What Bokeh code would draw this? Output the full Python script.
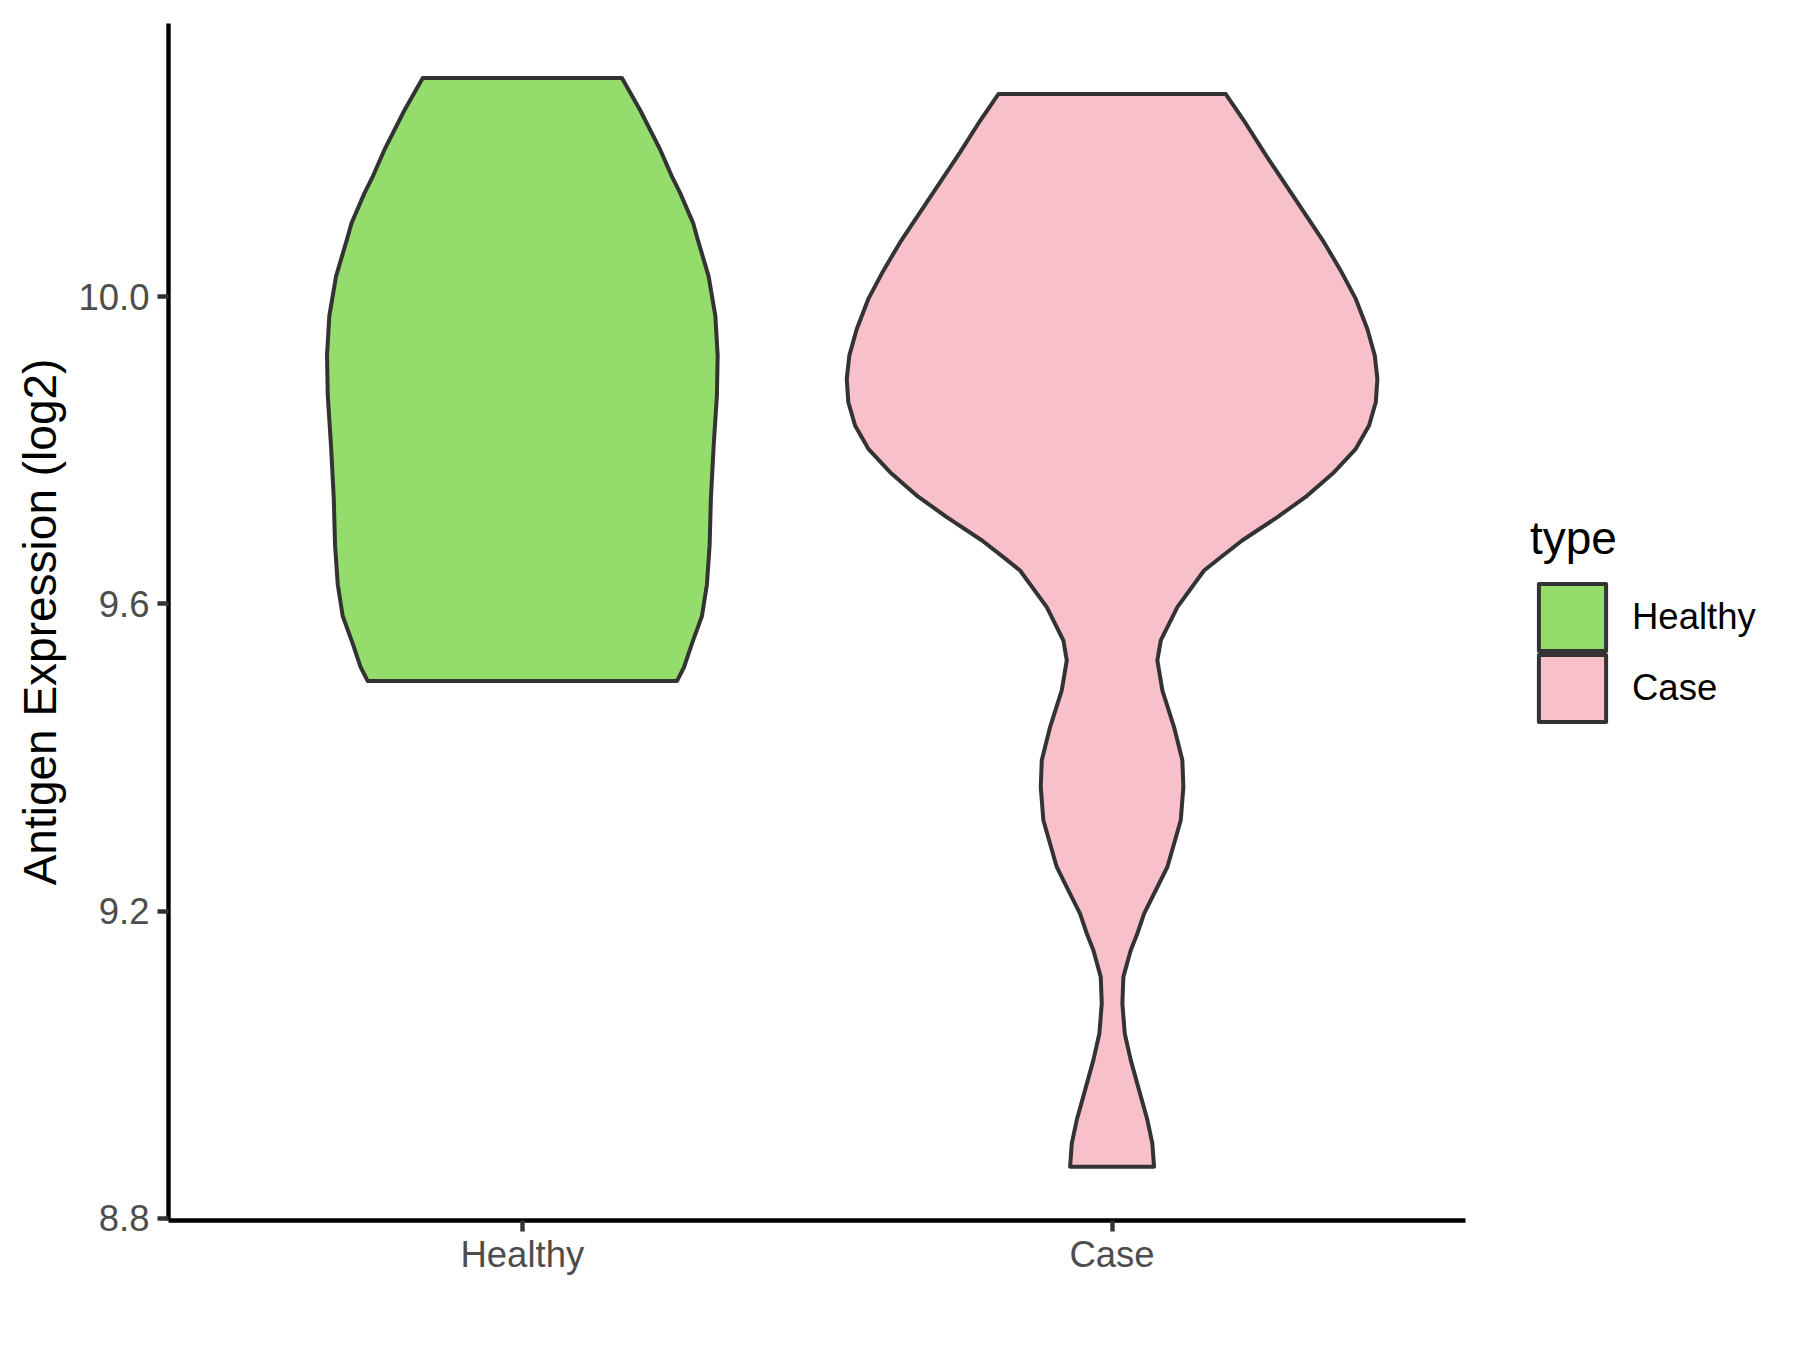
from bokeh.plotting import figure
from bokeh.models import Range1d, FixedTicker, Legend, LegendItem
from bokeh.embed import file_html
from bokeh.resources import INLINE

# ---- data ----
categories = ["Healthy", "Case"]
fill_colors = ["#94DC6B", "#F7C0CB"]
y_ticks = [8.8, 9.2, 9.6, 10.0]
y_tick_labels = ["8.8", "9.2", "9.6", "10.0"]

# violin outlines: expression value (top -> bottom) and half width (x units)
healthy_y = [10.2849, 10.2427, 10.1913, 10.1555, 10.1347, 10.0953, 10.0781,
             10.0267, 9.9753, 9.9239, 9.8724, 9.8055, 9.7386, 9.6769,
             9.6254, 9.5843, 9.5484, 9.5178, 9.4995]
healthy_hw = [0.1689, 0.2001, 0.2340, 0.2544, 0.2679, 0.2900, 0.2961,
              0.3159, 0.3273, 0.3312, 0.3300, 0.3244, 0.3198, 0.3176,
              0.3130, 0.3046, 0.2876, 0.2742, 0.2622]

case_y = [10.2641, 10.2293, 10.1881, 10.1490, 10.1100, 10.0709, 10.0341,
          9.9973, 9.9582, 9.9235, 9.8931, 9.8627, 9.8324, 9.8020, 9.7716,
          9.7412, 9.7130, 9.6827, 9.6609, 9.6436, 9.5959, 9.5525, 9.5265,
          9.4874, 9.4397, 9.3963, 9.3616, 9.3182, 9.2575, 9.2271, 9.1968,
          9.1708, 9.1490, 9.1143, 9.0796, 9.0406, 9.0059, 8.9668, 8.9278,
          8.8975, 8.8670]
case_hw = [0.1928, 0.2238, 0.2578, 0.2917, 0.3256, 0.3595, 0.3878,
           0.4133, 0.4329, 0.4455, 0.4499, 0.4472, 0.4358, 0.4133, 0.3765,
           0.3312, 0.2803, 0.2205, 0.1843, 0.1560, 0.1107, 0.0826, 0.0768,
           0.0853, 0.1051, 0.1192, 0.1209, 0.1165, 0.0938, 0.0741, 0.0543,
           0.0429, 0.0317, 0.0192, 0.0175, 0.0215, 0.0317, 0.0458, 0.0599,
           0.0683, 0.0712]

profiles = [(healthy_y, healthy_hw), (case_y, case_hw)]

FONT = "Liberation Sans"

# layout: the plotting frame runs to the right edge so the legend can sit in it;
# the x axis line itself is bounded to the discrete range [0.4, 2.6]
W, H = 1800, 1350
B_LEFT, B_RIGHT, B_TOP, B_BOTTOM = 168, 10, 23, 130
AXIS_PX = 1297.4                      # pixel length of the x axis line
x_lo, x_hi = 0.4, 2.6
frame_w = W - B_LEFT - B_RIGHT
x_end = x_lo + (x_hi - x_lo) * frame_w / AXIS_PX

p = figure(width=W, height=H, output_backend="svg", toolbar_location=None,
           x_range=Range1d(x_lo, x_end), y_range=Range1d(8.797, 10.356),
           min_border_left=B_LEFT, min_border_right=B_RIGHT,
           min_border_top=B_TOP, min_border_bottom=B_BOTTOM)
p.outline_line_color = None
p.background_fill_color = "white"
p.border_fill_color = "white"
p.xgrid.visible = False
p.ygrid.visible = False

renderers = []
for i, (cat, (ys, hws)) in enumerate(zip(categories, profiles)):
    center = i + 1
    left_x = [center - w for w in hws]
    right_x = [center + w for w in hws]
    xs = left_x + right_x[::-1]
    yy = list(ys) + list(ys)[::-1]
    r = p.patch(xs, yy, fill_color=fill_colors[i], line_color="#333333",
                line_width=4, line_join="round")
    renderers.append(r)

# axes
for ax in (p.xaxis[0], p.yaxis[0]):
    ax.axis_line_color = "black"
    ax.axis_line_width = 4.4
    ax.major_tick_line_color = "#333333"
    ax.major_tick_line_width = 4.4
    ax.major_tick_out = 11
    ax.major_tick_in = 0
    ax.minor_tick_line_color = None
    ax.major_label_text_font = FONT
    ax.major_label_text_font_size = "36.5px"
    ax.major_label_text_color = "#4D4D4D"

p.xaxis.bounds = (x_lo, x_hi)
p.xaxis.ticker = FixedTicker(ticks=[1, 2])
p.xaxis.major_label_overrides = {i + 1: c for i, c in enumerate(categories)}
p.xaxis.major_label_standoff = 2

p.yaxis.ticker = FixedTicker(ticks=y_ticks)
p.yaxis.major_label_overrides = {t: l for t, l in zip(y_ticks, y_tick_labels)}
p.yaxis.major_label_standoff = 8
p.yaxis.axis_label = "Antigen Expression (log2)"
p.yaxis.axis_label_text_font = FONT
p.yaxis.axis_label_text_font_size = "46px"
p.yaxis.axis_label_text_font_style = "normal"
p.yaxis.axis_label_text_color = "black"
p.yaxis.axis_label_standoff = 9


def make_legend(cat, r, loc, title=None):
    lg = Legend(items=[LegendItem(label=cat, renderers=[r])], location=loc)
    if title is not None:
        lg.title = title
        lg.title_text_font = FONT
        lg.title_text_font_size = "46px"
        lg.title_text_font_style = "normal"
        lg.title_text_color = "black"
        lg.title_standoff = 10
    lg.label_text_font = FONT
    lg.label_text_font_size = "36.5px"
    lg.label_text_color = "black"
    lg.glyph_width = 84
    lg.glyph_height = 84
    lg.label_standoff = 18
    lg.padding = 0
    lg.margin = 0
    lg.border_line_color = None
    lg.background_fill_alpha = 0
    return lg


# legend keys stacked as in the reference (one Legend per key keeps them adjacent)
legend_locs = [(1362, 561), (1362, 490)]
for i, (cat, r) in enumerate(zip(categories, renderers)):
    p.add_layout(make_legend(cat, r, legend_locs[i], title="type" if i == 0 else None))

open("out.html", "w").write(file_html(p, INLINE))
